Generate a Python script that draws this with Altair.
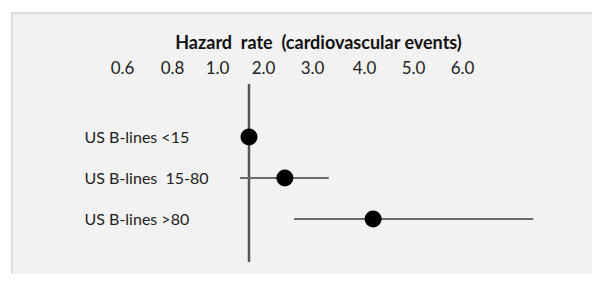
import altair as alt
import pandas as pd

NB = "\u00a0"
groups = ["US B-lines <15", "US B-lines " + NB + "15-80", "US B-lines >80"]
hazard = [1.0, 1.78, 3.56]
ci_low = [None, 0.96, 1.98]
ci_high = [None, 2.69, 6.80]
tick_values = [0.6, 0.8, 1.0, 2.0, 3.0, 4.0, 5.0, 6.0]
reference = [1.0]
title_text = "Hazard " + NB + "rate " + NB + "(cardiovascular events)"

df = pd.DataFrame({"group": groups, "hr": hazard, "lo": ci_low, "hi": ci_high})
ref_df = pd.DataFrame({"ref": reference})

font = "Lato"
xscale = alt.Scale(
    type="linear",
    domain=tick_values + [7.0],
    range=[142, 192, 237, 283, 332, 384, 433, 482, 531],
    clamp=False,
)
yscale = alt.Scale(type="point", domain=groups, range=[124, 206], padding=0)

x_axis = alt.Axis(
    orient="top",
    values=tick_values,
    format=".1f",
    ticks=False,
    grid=False,
    domain=False,
    labelPadding=-55,
    labelBaseline="middle",
    labelOffset=-32,
    labelFont=font,
    labelFontSize=17,
    labelColor="#222222",
    labelFlush=False,
    labelOverlap=False,
    title=title_text,
    titleFont=font,
    titleFontSize=18,
    titleFontWeight="bold",
    titleColor="#111111",
    titleX=306,
    titleY=30,
    titleAlign="center",
    titleBaseline="middle",
)
y_axis = alt.Axis(
    orient="left",
    ticks=False,
    grid=False,
    domain=False,
    labelAlign="left",
    labelPadding=-72,
    labelBaseline="middle",
    labelFont=font,
    labelFontSize=16,
    labelColor="#222222",
    title=None,
)

base = alt.Chart(df)

ref_line = alt.Chart(ref_df).mark_rule(color="#555555", strokeWidth=2.5).encode(
    x=alt.X("ref:Q", scale=xscale, axis=x_axis),
    y=alt.value(71),
    y2=alt.value(249),
)

whiskers = base.transform_filter("datum.lo != null").mark_rule(
    color="#6b6b6b", strokeWidth=2
).encode(
    x=alt.X("lo:Q", scale=xscale),
    x2="hi:Q",
    y=alt.Y("group:N", scale=yscale, axis=y_axis, sort=groups),
)

points = base.mark_circle(size=290, color="black", opacity=1).encode(
    x=alt.X("hr:Q", scale=xscale),
    y=alt.Y("group:N", scale=yscale, sort=groups),
)

chart = (
    alt.layer(ref_line, whiskers, points)
    .properties(
        width=590,
        height=272,
        autosize=alt.AutoSizeParams(type="none"),
        padding={"left": 4, "top": 5, "right": -10, "bottom": -11},
        background="white",
    )
    .configure_view(fill="#f2f2f2", stroke="#d4d4d4", strokeWidth=1.5)
)

chart.save("out.html", embed_options={"renderer": "svg", "actions": False})
